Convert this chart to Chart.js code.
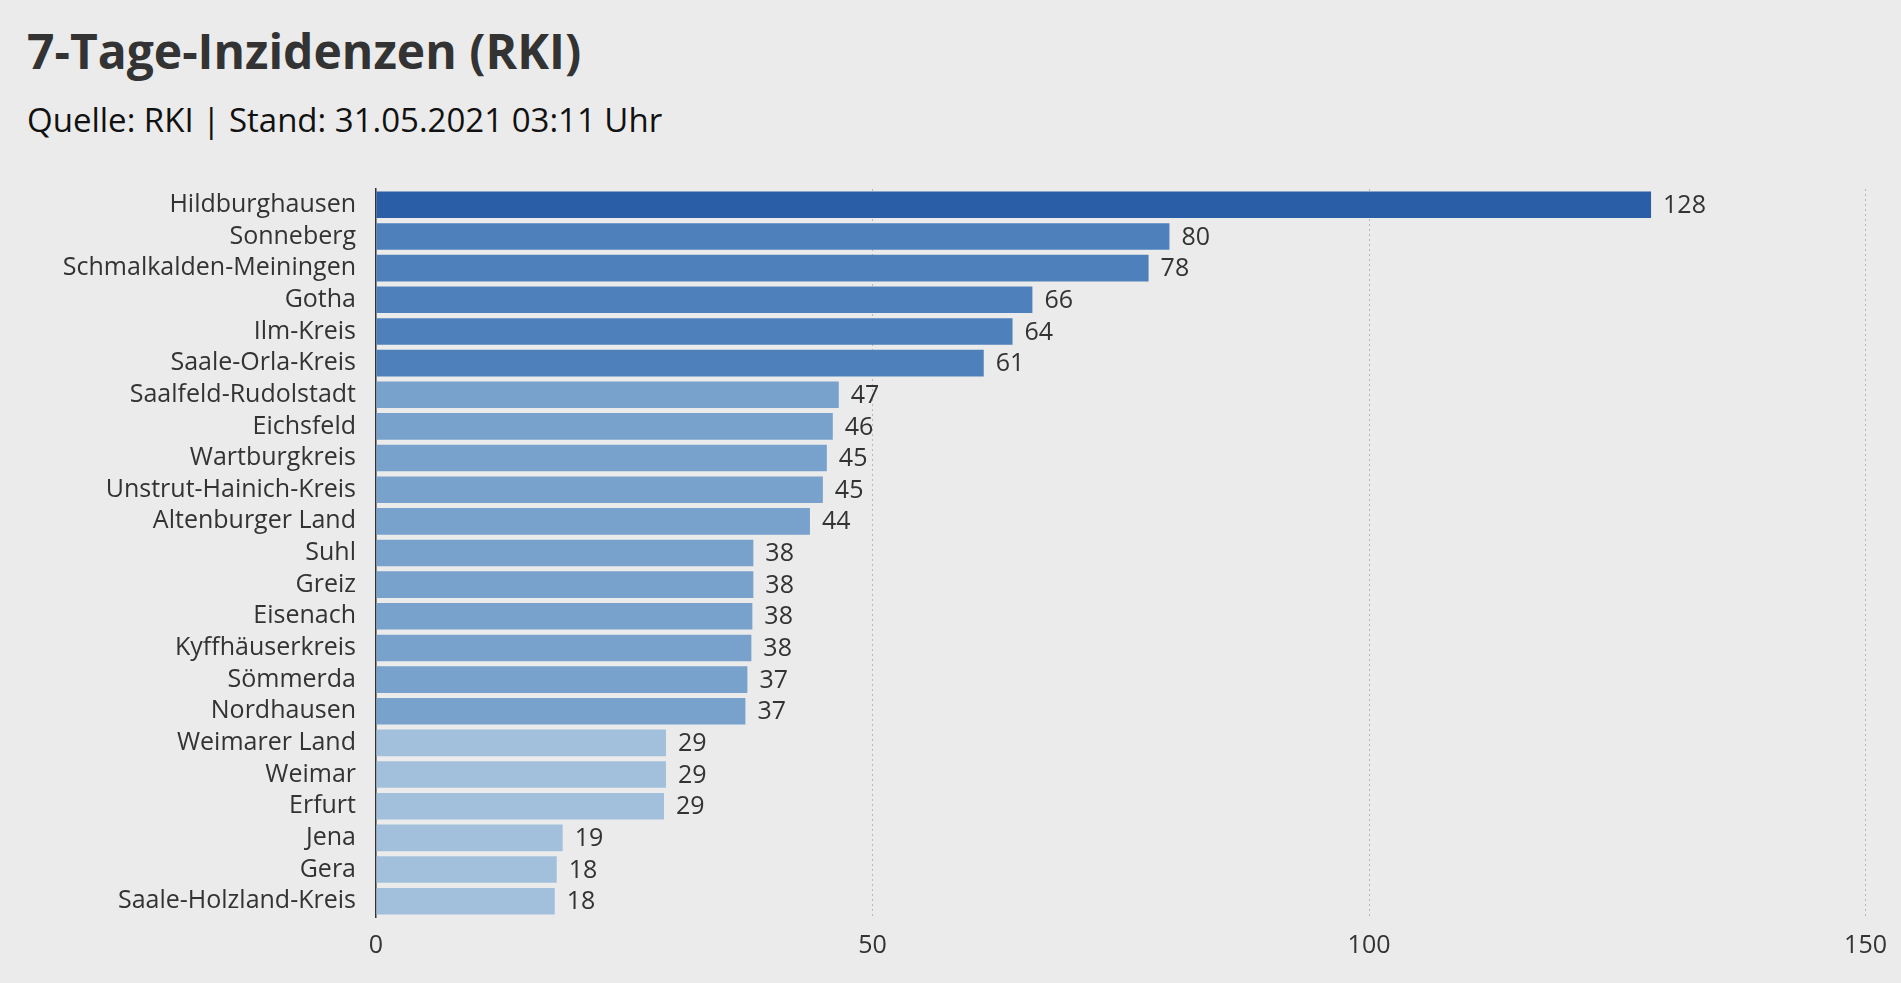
<!DOCTYPE html>
<html>
<head>
<meta charset="utf-8">
<script src="https://cdn.jsdelivr.net/npm/chart.js@4"></script>
<style>
  body { margin: 0; background: #ebebeb; font-family: "Open Sans", sans-serif; color: #333; }
  #title { position: absolute; left: 27px; top: 18px; font-size: 48px; font-weight: 700; }
  #sub { position: absolute; left: 27px; top: 97px; font-size: 33px; color: #111; }
  #wrap { position: absolute; left: 0; top: 162px; width: 1901px; height: 821px; }
</style>
</head>
<body>
<div id="title">7-Tage-Inzidenzen (RKI)</div>
<div id="sub">Quelle: RKI | Stand: 31.05.2021 03:11 Uhr</div>
<div id="wrap"><canvas id="chart"></canvas></div>
<script>
const districts = ['Hildburghausen','Sonneberg','Schmalkalden-Meiningen','Gotha','Ilm-Kreis','Saale-Orla-Kreis',
  'Saalfeld-Rudolstadt','Eichsfeld','Wartburgkreis','Unstrut-Hainich-Kreis','Altenburger Land','Suhl','Greiz',
  'Eisenach','Kyffhäuserkreis','Sömmerda','Nordhausen','Weimarer Land','Weimar','Erfurt','Jena','Gera','Saale-Holzland-Kreis'];
const incidence = [128.4, 79.9, 77.8, 66.1, 64.1, 61.2, 46.6, 46.0, 45.4, 45.0, 43.7, 38.0, 38.0, 37.9, 37.8,
  37.4, 37.2, 29.2, 29.2, 29.0, 18.8, 18.2, 18.0];
const shownValues = [128, 80, 78, 66, 64, 61, 47, 46, 45, 45, 44, 38, 38, 38, 38, 37, 37, 29, 29, 29, 19, 18, 18];
const xTicks = [0, 50, 100, 150];

// colour band by value
function barColor(v) {
  if (v >= 100) return '#2a5fa8';
  if (v >= 50) return '#4e81bc';
  if (v >= 35) return '#78a2cc';
  return '#a2c0dc';
}

const valueLabels = {
  id: 'valueLabels',
  afterDatasetsDraw(chart) {
    const ctx = chart.ctx;
    const meta = chart.getDatasetMeta(0);
    ctx.save();
    ctx.font = '25px "Open Sans"';
    ctx.fillStyle = '#333';
    ctx.textBaseline = 'middle';
    meta.data.forEach((bar, i) => ctx.fillText(shownValues[i], bar.x + 12, bar.y + 1));
    ctx.restore();
  }
};

new Chart(document.getElementById('chart'), {
  type: 'bar',
  data: {
    labels: districts,
    datasets: [{ data: incidence, backgroundColor: incidence.map(barColor), categoryPercentage: 0.84, barPercentage: 1 }]
  },
  options: {
    indexAxis: 'y',
    responsive: true,
    maintainAspectRatio: false,
    animation: false,
    layout: { padding: { top: 17, right: 18, bottom: 8 } },
    plugins: { legend: { display: false }, tooltip: { enabled: false } },
    scales: {
      x: {
        min: 0, max: 150,
        afterBuildTicks: s => { s.ticks = xTicks.map(v => ({ value: v })); },
        grid: { color: c => c.tick && c.tick.value === 0 ? 'transparent' : '#b8b8b8', lineWidth: 1, drawTicks: false },
        border: { display: false, dash: [2, 3] },
        ticks: { font: { size: 25, family: 'Open Sans' }, color: '#333', padding: 14 }
      },
      y: {
        afterFit: s => { s.width = 376; },
        grid: { display: false },
        border: { display: true, color: '#333', width: 1.5 },
        ticks: { font: { size: 25, family: 'Open Sans' }, color: '#333', padding: 12, autoSkip: false }
      }
    }
  },
  plugins: [valueLabels]
});
</script>
</body>
</html>
